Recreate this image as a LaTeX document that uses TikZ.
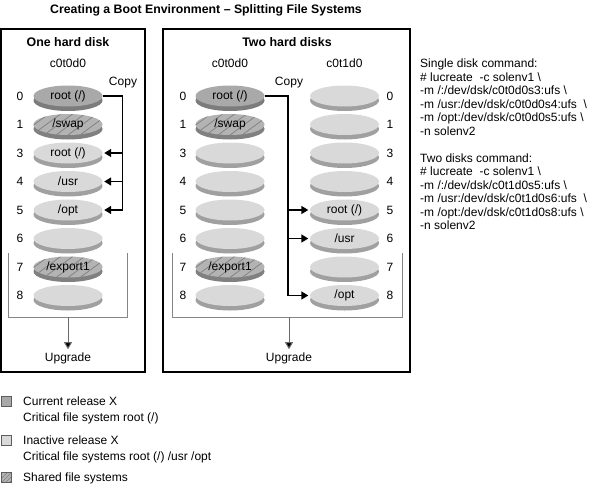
\documentclass[tikz,border=0pt]{standalone}
\usepackage{fontspec}
\setmainfont{Liberation Sans}
\usetikzlibrary{arrows.meta,shapes.geometric}
\definecolor{curface}{HTML}{A9A9A9}
\definecolor{currim}{HTML}{7C7C7C}
\definecolor{inface}{HTML}{D9D9D9}
\definecolor{inrim}{HTML}{A0A0A0}
\definecolor{shface}{HTML}{B3B3B3}
\definecolor{shrim}{HTML}{808080}
\definecolor{hatchc}{HTML}{7F7F7F}
\definecolor{brk}{HTML}{858585}
\newcommand\mydisk[5]{%
  \fill[#4rim] (#2,#3+4.5) ellipse [x radius=34.5, y radius=10.5];
  \node[disk, fill=#4face, #4style] (#1) at (#2,#3) {#5};%
}
\begin{document}
\begin{tikzpicture}[x=1pt,y=-1pt,
  font=\fontsize{12}{13.5}\selectfont,
  disk/.style={ellipse, minimum width=69pt, minimum height=21pt, inner sep=0pt},
  curstyle/.style={},
  instyle/.style={},
  shstyle/.style={path picture={
    \foreach \k in {-96,-84,...,84}
      \draw[hatchc, line width=0.7pt] ([xshift=\k pt]path picture bounding box.south) -- ++(30pt,22pt);}},
  cpline/.style={line width=1.5pt, black},
  cparrow/.style={cpline, -{Triangle[length=7pt,width=8pt]}, shorten >=1.5pt},
  bracket/.style={draw=brk, line width=0.9pt},
  upline/.style={draw=brk!80!black, line width=1pt, -{Triangle[length=7pt,width=8pt,fill=black]}, shorten >=1pt},
  frame/.style={draw=black, line width=1.3pt},
  boxtitle/.style={font=\bfseries\fontsize{12.4}{14}\selectfont},
  keybox/.style={draw=brk!70!black, line width=0.6pt, minimum size=10pt, inner sep=0pt},
  keytext/.style={anchor=base west, inner sep=0pt},
  num/.style={inner sep=0pt}
]
\useasboundingbox (0,0) rectangle (591,487);

% title
\node[font=\bfseries\fontsize{12.3}{14}\selectfont] (title) at (206,10) {Creating a Boot Environment – Splitting File Systems};

% frames
\draw[frame] (1,29) rectangle (145,372);
\draw[frame] (163,29) rectangle (410,372);

\node[boxtitle] (t1) at (68,42) {One hard disk};
\node[boxtitle] (t2) at (287,42) {Two hard disks};
\node (d1) at (68,63) {c0t0d0};
\node (d2) at (230,63) {c0t0d0};
\node (d3) at (344.5,63) {c0t1d0};

% left disk
\mydisk{L0}{68}{96}{cur}{root (/)}
\mydisk{L1}{68}{124.5}{sh}{/swap}
\mydisk{L3}{68}{153}{in}{root (/)}
\mydisk{L4}{68}{181.5}{in}{/usr}
\mydisk{L5}{68}{210}{in}{/opt}
\mydisk{L6}{68}{238.5}{in}{}
\mydisk{L7}{68}{267}{sh}{/export1}
\mydisk{L8}{68}{295.5}{in}{}

% right box disk c0t0d0
\mydisk{A0}{230}{96}{cur}{root (/)}
\mydisk{A1}{230}{124.5}{sh}{/swap}
\mydisk{A3}{230}{153}{in}{}
\mydisk{A4}{230}{181.5}{in}{}
\mydisk{A5}{230}{210}{in}{}
\mydisk{A6}{230}{238.5}{in}{}
\mydisk{A7}{230}{267}{sh}{/export1}
\mydisk{A8}{230}{295.5}{in}{}

% right box disk c0t1d0
\mydisk{B0}{344.5}{96}{in}{}
\mydisk{B1}{344.5}{124.5}{in}{}
\mydisk{B3}{344.5}{153}{in}{}
\mydisk{B4}{344.5}{181.5}{in}{}
\mydisk{B5}{344.5}{210}{in}{root (/)}
\mydisk{B6}{344.5}{238.5}{in}{/usr}
\mydisk{B7}{344.5}{267}{in}{}
\mydisk{B8}{344.5}{295.5}{in}{/opt}

% slice numbers
\foreach \lab/\yy in {0/96,1/124.5,3/153,4/181.5,5/210,6/238.5,7/267,8/295.5}{
  \node[num] (nl\lab) at (20,\yy) {\lab};
  \node[num] (na\lab) at (183,\yy) {\lab};
  \node[num] (nb\lab) at (390,\yy) {\lab};
}

% copy connectors, one disk
\node (LCopy) at (123,83) {Copy};
\coordinate (LB) at (122.5,96);
\draw[cpline] (L0.east) -- (LB) -- (LB |- L5.east);
\foreach \r in {3,4,5}
  \draw[cparrow] (LB |- L\r.east) -- (L\r.east);

% copy connectors, two disks
\node (RCopy) at (289,83) {Copy};
\coordinate (RB) at (288,96);
\draw[cpline] (A0.east) -- (RB) -- (RB |- B8.west);
\foreach \r in {5,6,8}
  \draw[cparrow] (RB |- B\r.west) -- (B\r.west);

% upgrade brackets
\draw[bracket] (8,253) -- (8,317) -- (127,317) -- (127,253);
\node[inner sep=2pt] (LUp) at (68,358) {Upgrade};
\coordinate (LBr) at (68,317);
\draw[upline] (LBr) -- (LUp.north);

\draw[bracket] (172,253) -- (172,317) -- (402,317) -- (402,253);
\node[inner sep=2pt] (RUp) at (289,358) {Upgrade};
\coordinate (RBr) at (289,317);
\draw[upline] (RBr) -- (RUp.north);

% commands
\node[anchor=north west, inner sep=0pt, align=left] (cmd) at (420,59) {%
Single disk command:\\
\#~lucreate~~-c solenv1 \textbackslash\\
-m /:/dev/dsk/c0t0d0s3:ufs \textbackslash\\
-m /usr:/dev/dsk/c0t0d0s4:ufs~~\textbackslash\\
-m /opt:/dev/dsk/c0t0d0s5:ufs \textbackslash\\
-n solenv2\\[13.5pt]
Two disks command:\\
\#~lucreate~~-c solenv1 \textbackslash\\
-m /:/dev/dsk/c0t1d0s5:ufs \textbackslash\\
-m /usr:/dev/dsk/c0t1d0s6:ufs~~\textbackslash\\
-m /opt:/dev/dsk/c0t1d0s8:ufs \textbackslash\\
-n solenv2};

% legend
\node[keybox, fill=curface] (K1) at (6,401) {};
\node[keybox, fill=inface] (K2) at (6,440) {};
\node[keybox, fill=shface, path picture={
  \foreach \k in {-8,-4,...,8}
    \draw[hatchc, line width=0.6pt] ([xshift=\k pt]path picture bounding box.south) -- ++(10pt,10pt);}] (K3) at (6,477) {};
\node[keytext] (T1a) at (23,405) {Current release X};
\node[keytext] (T1b) at (23,421) {Critical file system root (/)};
\node[keytext] (T2a) at (23,444.5) {Inactive release X};
\node[keytext] (T2b) at (23,460) {Critical file systems root (/) /usr /opt};
\node[keytext] (T3) at (23,481) {Shared file systems};
\end{tikzpicture}
\end{document}
